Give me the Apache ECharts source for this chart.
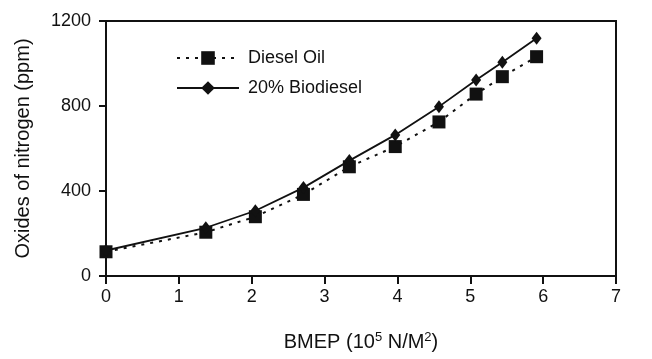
<!DOCTYPE html>
<html>
<head>
<meta charset="utf-8">
<script src="https://cdn.jsdelivr.net/npm/echarts@6/dist/echarts.min.js"></script>
<style>
  html, body { margin: 0; padding: 0; background: #fff; }
  #chart { width: 652px; height: 359px; }
</style>
</head>
<body>
<div id="chart"></div>
<script>
// BMEP (10^5 N/M^2) for each load point
const bmep = [0, 1.37, 2.05, 2.71, 3.34, 3.97, 4.57, 5.08, 5.44, 5.91];
// Oxides of nitrogen (ppm)
const dieselOil = [114, 206, 279, 384, 514, 609, 725, 856, 938, 1032];
const biodiesel20 = [120, 227, 307, 416, 543, 664, 797, 922, 1006, 1119];
const seriesNames = ["Diesel Oil", "20% Biodiesel"];

const chart = echarts.init(document.getElementById("chart"));

const ink = "#111";
const font = "Liberation Sans, Arial, sans-serif";

const pairs = (ys) => bmep.map((x, i) => [x, ys[i]]);

// same axis drawn twice so that ticks cross the line (one in, one out)
const xBase = {
  type: "value",
  min: 0,
  max: 7,
  interval: 1,
  splitLine: { show: false },
};
const yBase = {
  type: "value",
  min: 0,
  max: 1200,
  interval: 400,
  splitLine: { show: false },
};

const options = {
  animation: false,
  textStyle: { fontFamily: font, color: ink },
  grid: {
    left: 106,
    right: 36,
    top: 21,
    bottom: 83,
    show: true,
    borderColor: ink,
    borderWidth: 2,
  },
  legend: {
    orient: "vertical",
    left: 171,
    top: 44,
    itemWidth: 62,
    itemHeight: 17,
    itemGap: 12,
    textStyle: {
      fontSize: 18,
      color: ink,
      fontFamily: font,
      padding: [0, 0, 0, 4],
    },
    data: seriesNames,
  },
  xAxis: [
    {
      ...xBase,
      name: "BMEP (10{sup|5} N/M{sup|2})",
      nameLocation: "middle",
      nameGap: 55,
      nameTextStyle: {
        fontSize: 20,
        color: ink,
        rich: {
          sup: { fontSize: 13, verticalAlign: "top", padding: [0, 0, 9, 0] },
        },
      },
      axisLine: { lineStyle: { color: ink, width: 2 } },
      axisTick: { length: 8, lineStyle: { color: ink, width: 2 } },
      axisLabel: { fontSize: 18, color: ink, margin: 12 },
    },
    {
      ...xBase,
      axisLine: { show: false },
      axisTick: { inside: true, length: 8, lineStyle: { color: ink, width: 2 } },
      axisLabel: { show: false },
    },
  ],
  yAxis: [
    {
      ...yBase,
      name: "Oxides of nitrogen (ppm)",
      nameLocation: "middle",
      nameGap: 73,
      nameTextStyle: { fontSize: 20, color: ink },
      axisLine: { lineStyle: { color: ink, width: 2 } },
      axisTick: { length: 7, lineStyle: { color: ink, width: 2 } },
      axisLabel: {
        fontSize: 18,
        color: ink,
        margin: 15,
        formatter: (v) => String(v),
      },
    },
    {
      ...yBase,
      axisLine: { show: false },
      axisTick: { inside: true, length: 7, lineStyle: { color: ink, width: 2 } },
      axisLabel: { show: false },
    },
  ],
  series: [
    {
      name: seriesNames[0],
      type: "line",
      data: pairs(dieselOil),
      symbol: "rect",
      symbolSize: 13,
      itemStyle: { color: ink },
      lineStyle: { color: ink, width: 2, type: [3, 6] },
      z: 2,
    },
    {
      name: seriesNames[1],
      type: "line",
      data: pairs(biodiesel20),
      symbol: "diamond",
      symbolSize: [10, 13],
      itemStyle: { color: ink },
      lineStyle: { color: ink, width: 1.8 },
      z: 3,
    },
  ],
};

chart.setOption(options);
</script>
</body>
</html>
